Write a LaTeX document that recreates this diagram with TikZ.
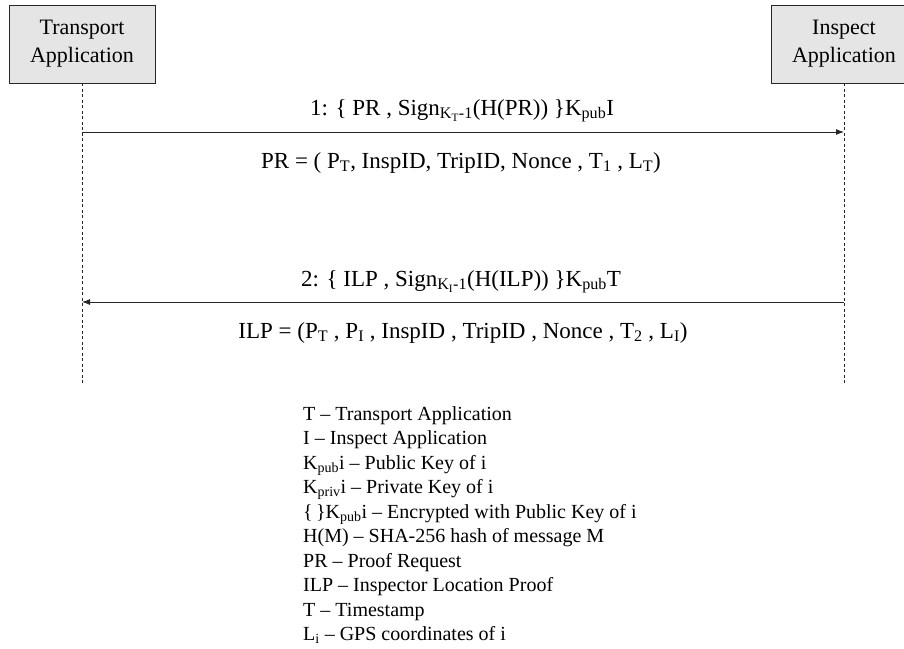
\documentclass[tikz,border=0pt]{standalone}
\usepackage{fontspec}
\setmainfont{Liberation Serif}
\usetikzlibrary{arrows.meta}
\tikzset{line/.style={draw=black!85, line width=0.9pt},
  actor/.style={line, fill=black!10, text=black, minimum width=146pt, minimum height=78pt, inner sep=0pt, align=center, font=\fontsize{22}{28}\selectfont},
  lifeline/.style={line, line width=0.8pt, dash pattern=on 3pt off 2.5pt},
  msg/.style={line, -{Latex[length=8pt,width=6pt]}},
  msgtext/.style={anchor=base, inner sep=0pt, text=black, font=\fontsize{23}{27}\selectfont},
  legend/.style={anchor=base west, inner sep=0pt, text=black, font=\fontsize{20}{24}\selectfont}}

\begin{document}
\begin{tikzpicture}[x=1pt,y=-1pt]
  \useasboundingbox (0,0) rectangle (904,648);
  \clip (0,0) rectangle (904,648);
  \node[actor] (tapp) at ( 82,44) {Transport\\Application};
  \node[actor] (iapp) at (844,44) {Inspect\\Application};
  \coordinate (tend) at ( 82,383);
  \coordinate (iend) at (844,383);
  \draw[lifeline] (tapp) -- (tend);
  \draw[lifeline] (iapp) -- (iend);
  \coordinate (t1) at ( 82,132); \coordinate (i1) at (844,132);
  \coordinate (t2) at ( 82,302); \coordinate (i2) at (844,302);
  \draw[msg] (t1) -- (i1);
  \draw[msg] (i2) -- (t2);
  \node[msgtext] (m1) at (462,115) {1: \{ PR , Sign\textsubscript{K\textsubscript{T}-1}(H(PR)) \}K\textsubscript{pub}I};
  \node[msgtext] (pr) at (461,168) {PR = ( P\textsubscript{T}, InspID, TripID, Nonce , T\textsubscript{1} , L\textsubscript{T})};
  \node[msgtext] (m2) at (461,286) {2: \{ ILP , Sign\textsubscript{K\textsubscript{I}-1}(H(ILP)) \}K\textsubscript{pub}T};
  \node[msgtext] (ilp) at (463,338) {ILP = (P\textsubscript{T} , P\textsubscript{I} , InspID , TripID , Nonce , T\textsubscript{2} , L\textsubscript{I})};
  \foreach \txt [count=\k] in {
    {T -- Transport Application},
    {I -- Inspect Application},
    {K\textsubscript{pub}i -- Public Key of i},
    {K\textsubscript{priv}i -- Private Key of i},
    {\{\,\}K\textsubscript{pub}i -- Encrypted with Public Key of i},
    {H(M) -- SHA-256 hash of message M},
    {PR -- Proof Request},
    {ILP -- Inspector Location Proof},
    {T -- Timestamp},
    {L\textsubscript{i} -- GPS coordinates of i}}
    \node[legend] (leg\k) at (303,{420+24.5*(\k-1)}) {\txt};
\end{tikzpicture}
\end{document}
